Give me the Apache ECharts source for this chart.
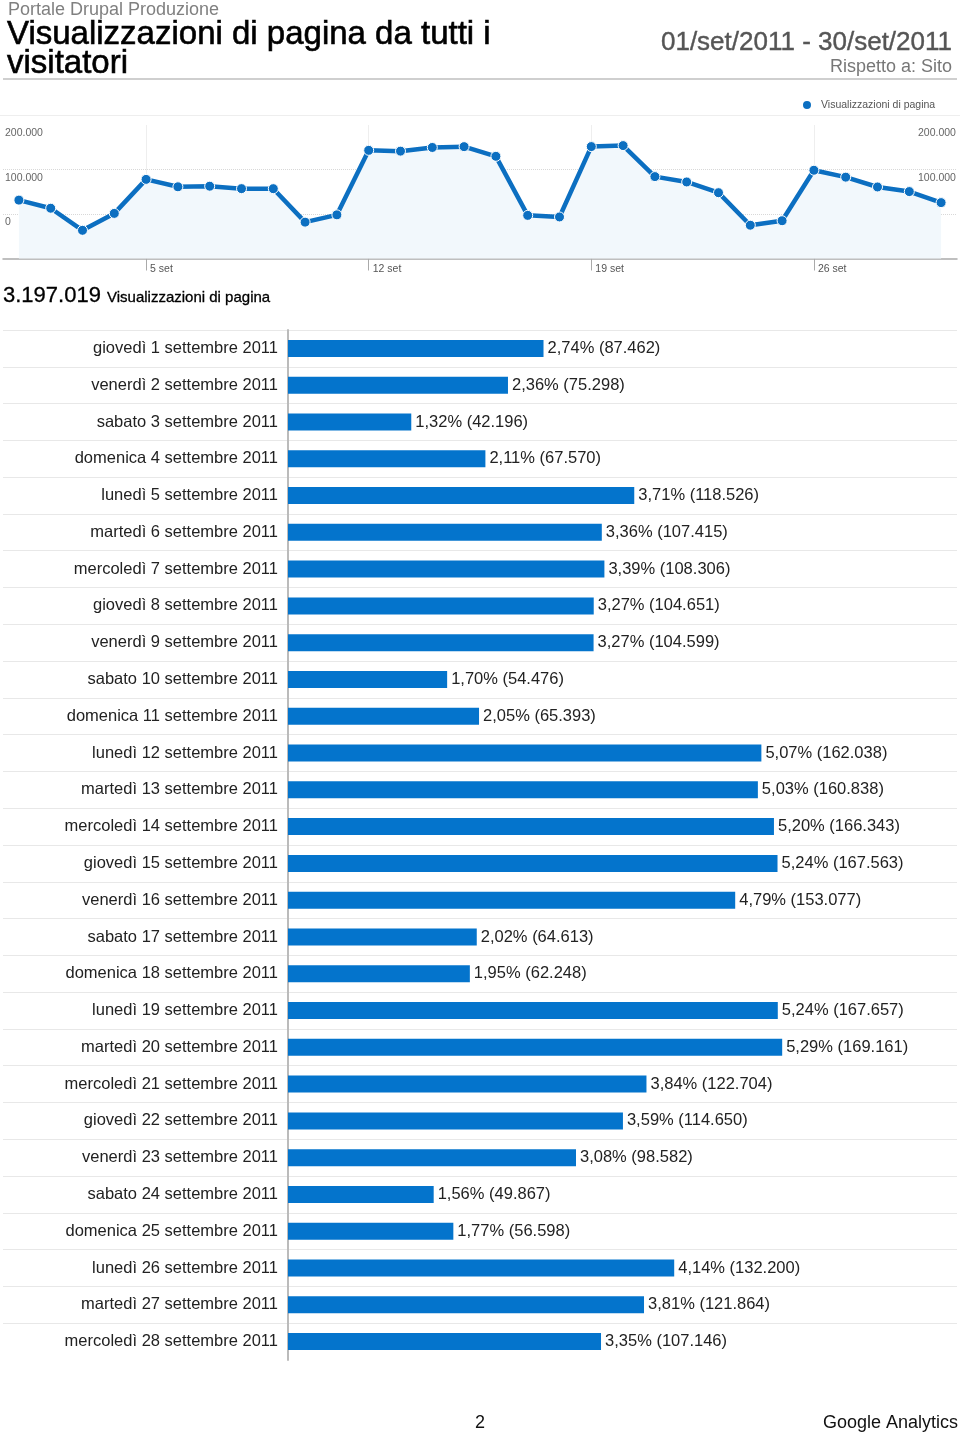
<!DOCTYPE html>
<html><head><meta charset="utf-8">
<script src="https://cdn.jsdelivr.net/npm/echarts@6/dist/echarts.min.js"></script>
<style>html,body{margin:0;padding:0;background:#fff}#c{width:960px;height:1436px}</style>
</head><body><div id="c"></div>
<script>
// ---- data ----
const lineDays = [1,2,3,4,5,6,7,8,9,10,11,12,13,14,15,16,17,18,19,20,21,22,23,24,25,26,27,28,29,30];
const lineValues = [87462,75298,42196,67570,118526,107415,108306,104651,104599,54476,65393,162038,160838,166343,167563,153077,64613,62248,167657,169161,122704,114650,98582,49867,56598,132200,121864,107146,100250,83728];
const dayTickValues = [5,12,19,26];
const yTickValues = [0,100000,200000];
const totalViews = 3197019;
const barCategories = [
  'giovedì 1 settembre 2011','venerdì 2 settembre 2011','sabato 3 settembre 2011','domenica 4 settembre 2011',
  'lunedì 5 settembre 2011','martedì 6 settembre 2011','mercoledì 7 settembre 2011','giovedì 8 settembre 2011',
  'venerdì 9 settembre 2011','sabato 10 settembre 2011','domenica 11 settembre 2011','lunedì 12 settembre 2011',
  'martedì 13 settembre 2011','mercoledì 14 settembre 2011','giovedì 15 settembre 2011','venerdì 16 settembre 2011',
  'sabato 17 settembre 2011','domenica 18 settembre 2011','lunedì 19 settembre 2011','martedì 20 settembre 2011',
  'mercoledì 21 settembre 2011','giovedì 22 settembre 2011','venerdì 23 settembre 2011','sabato 24 settembre 2011',
  'domenica 25 settembre 2011','lunedì 26 settembre 2011','martedì 27 settembre 2011','mercoledì 28 settembre 2011'
];
const barValues = [87462,75298,42196,67570,118526,107415,108306,104651,104599,54476,65393,162038,160838,166343,167563,153077,64613,62248,167657,169161,122704,114650,98582,49867,56598,132200,121864,107146];
const barPercents = ['2,74%','2,36%','1,32%','2,11%','3,71%','3,36%','3,39%','3,27%','3,27%','1,70%','2,05%','5,07%','5,03%','5,20%','5,24%','4,79%','2,02%','1,95%','5,24%','5,29%','3,84%','3,59%','3,08%','1,56%','1,77%','4,14%','3,81%','3,35%'];

// ---- helpers ----
const fmt = v => String(Math.round(v)).replace(/\B(?=(\d{3})+(?!\d))/g, '.');
const FONT = '"Liberation Sans", Arial, Helvetica, sans-serif';
const BLUE_LINE = '#0c6fc1';
const BLUE_BAR = '#0474cc';
const SERIES_NAME = 'Visualizzazioni di pagina';

const chart = echarts.init(document.getElementById('c'), null, {renderer: 'canvas'});

const yLabelFmt = v => (yTickValues.indexOf(v) >= 0 ? fmt(v) : '');

const option = {
  animation: false,
  backgroundColor: '#fff',
  textStyle: {fontFamily: FONT},
  legend: {
    data: [SERIES_NAME], left: 801, top: 99, padding: 0,
    icon: 'circle', itemWidth: 10, itemHeight: 10,
    textStyle: {fontSize: 10.5, color: '#555', fontFamily: FONT, padding: [0, 0, 0, 4]}
  },
  grid: [
    {left: 3, right: 3, top: 125, height: 133.5},
    {left: 288, right: 3, top: 330, height: 1030},
    {left: 3, right: 3, top: 330, height: 1030 * 27 / 28}
  ],
  xAxis: [
    {
      gridIndex: 0, type: 'value', min: 0.5, max: 30.5,
      axisLine: {lineStyle: {color: '#aaa', width: 1.5}},
      axisTick: {customValues: dayTickValues, length: 12, lineStyle: {color: '#aaa'}},
      axisLabel: {customValues: dayTickValues, formatter: v => v + ' set', align: 'left',
        padding: [0, 0, 0, 4], margin: 5, fontSize: 10.5, color: '#555', fontFamily: FONT},
      splitLine: {show: true, lineStyle: {color: '#eee'}}
    },
    {gridIndex: 1, type: 'value', min: 0, max: 229000, show: false},
    {gridIndex: 2, type: 'value', min: 0, max: 1, show: false}
  ],
  yAxis: [
    {gridIndex: 0, type: 'value', min: 0, max: 200000, show: false},
    {
      gridIndex: 0, type: 'value', min: -100000, max: 200000, interval: 100000, position: 'left',
      axisLine: {show: false}, axisTick: {show: false},
      axisLabel: {inside: true, margin: 2, verticalAlign: 'top', padding: [3, 0, 0, 0],
        fontSize: 10.5, color: '#666', fontFamily: FONT, formatter: yLabelFmt},
      splitLine: {show: true, showMinLine: false, showMaxLine: false, lineStyle: {type: 'dotted', color: '#d8d8d8'}}
    },
    {
      gridIndex: 0, type: 'value', min: -100000, max: 200000, interval: 100000, position: 'right',
      axisLine: {show: false}, axisTick: {show: false},
      axisLabel: {inside: true, margin: 39, align: 'left', verticalAlign: 'top', padding: [3, 0, 0, 0],
        fontSize: 10.5, color: '#666', fontFamily: FONT, formatter: yLabelFmt},
      splitLine: {show: false}
    },
    {
      gridIndex: 1, type: 'category', inverse: true, data: barCategories,
      axisLine: {lineStyle: {color: '#bbb', width: 2}}, axisTick: {show: false},
      axisLabel: {margin: 10, fontSize: 16.5, color: '#222', fontFamily: FONT, padding: [7, 0, 0, 0]},
      splitLine: {show: false}
    },
    {
      gridIndex: 2, type: 'category', inverse: true, data: barCategories.slice(0, 27),
      axisLine: {show: false}, axisTick: {show: false}, axisLabel: {show: false},
      splitLine: {show: true, lineStyle: {color: '#e8e8e8', width: 1}}
    }
  ],
  series: [
    {
      name: SERIES_NAME, type: 'line', xAxisIndex: 0, yAxisIndex: 0,
      data: lineDays.map((d, i) => [d, lineValues[i]]),
      symbol: 'circle', symbolSize: 10, z: 5,
      lineStyle: {width: 4.5, color: BLUE_LINE},
      itemStyle: {color: BLUE_LINE, borderColor: '#fff', borderWidth: 1},
      areaStyle: {color: '#f2f8fc', opacity: 1}
    },
    {
      type: 'bar', xAxisIndex: 1, yAxisIndex: 3, data: barValues, barWidth: 17, z: 3,
      itemStyle: {color: BLUE_BAR},
      label: {show: true, position: 'right', distance: 4, fontSize: 16.5, color: '#222', fontFamily: FONT,
        padding: [7, 0, 0, 0],
        formatter: p => barPercents[p.dataIndex] + ' (' + fmt(p.value) + ')'}
    }
  ],
  graphic: [
    {type: 'text', x: 8, y: 10.5, style: {text: 'Portale Drupal Produzione', font: '18px ' + FONT, fill: '#808080', verticalAlign: 'middle'}},
    {type: 'text', x: 7, y: 35, style: {text: 'Visualizzazioni di pagina da tutti i', font: '33px ' + FONT, fill: '#000', stroke: '#000', lineWidth: 0.6, verticalAlign: 'middle'}},
    {type: 'text', x: 7, y: 63.5, style: {text: 'visitatori', font: '33px ' + FONT, fill: '#000', stroke: '#000', lineWidth: 0.6, verticalAlign: 'middle'}},
    {type: 'text', x: 952, y: 43, style: {text: '01/set/2011 - 30/set/2011', font: '26px ' + FONT, fill: '#555', stroke: '#555', lineWidth: 0.4, align: 'right', verticalAlign: 'middle'}},
    {type: 'text', x: 952, y: 67.5, style: {text: 'Rispetto a: Sito', font: '18px ' + FONT, fill: '#777', align: 'right', verticalAlign: 'middle'}},
    {type: 'line', shape: {x1: 3, y1: 79, x2: 957, y2: 79}, style: {stroke: '#cfcfcf', lineWidth: 2}},
    {type: 'line', shape: {x1: 0, y1: 115.5, x2: 960, y2: 115.5}, style: {stroke: '#eeeeee', lineWidth: 1}},
    {type: 'text', x: 3, y: 296, style: {text: fmt(totalViews), font: '22px ' + FONT, fill: '#000', stroke: '#000', lineWidth: 0.3, verticalAlign: 'middle'}},
    {type: 'text', x: 107, y: 298, style: {text: SERIES_NAME, font: '15px ' + FONT, fill: '#000', stroke: '#000', lineWidth: 0.3, verticalAlign: 'middle'}},
    {type: 'text', x: 480, y: 1423, style: {text: '2', font: '18px ' + FONT, fill: '#111', align: 'center', verticalAlign: 'middle'}},
    {type: 'text', x: 823, y: 1423, style: {text: 'Google Analytics', font: '18px ' + FONT, fill: '#111', verticalAlign: 'middle'}}
  ]
};
chart.setOption(option);
</script>
</body></html>
